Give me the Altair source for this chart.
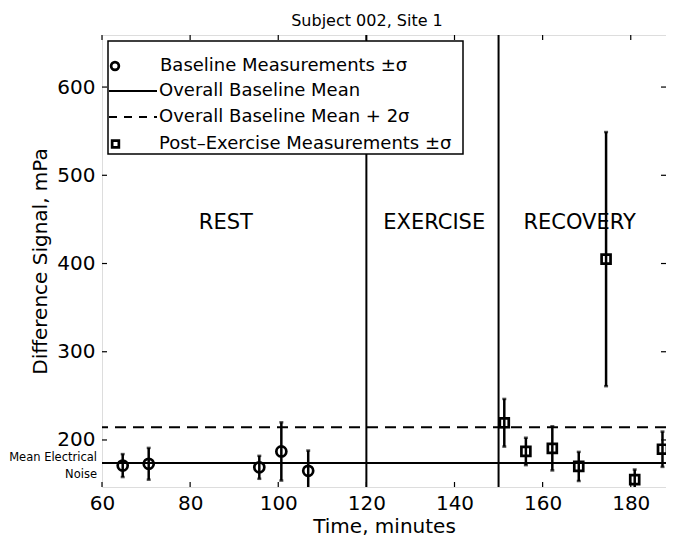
import altair as alt
import pandas as pd

# ---------------- data ----------------
base_t = [64.7, 70.6, 95.7, 100.7, 106.8]
base_v = [171, 173, 169, 187, 165]
base_e = [13, 18, 13, 33, 23]

post_t = [151.3, 156.2, 162.2, 168.2, 174.4, 180.9, 187.2]
post_v = [219.5, 187, 190.5, 170, 405, 155, 189.5]
post_e = [27, 15.5, 25, 16.5, 144, 11.5, 20]

baseline_mean = 174
baseline_mean_2s = 214.5
phase_bounds = [120, 150]

phase_names = ["REST", "EXERCISE", "RECOVERY"]
phase_x = [88.1, 135.4, 168.4]
phase_y = [446, 446, 446]

x_ticks = [60, 80, 100, 120, 140, 160, 180]
y_ticks = [200, 300, 400, 500, 600]

legend_labels = [
    "Baseline Measurements \u00b1\u03c3",
    "Overall Baseline Mean",
    "Overall Baseline Mean + 2\u03c3",
    "Post\u2013Exercise Measurements \u00b1\u03c3",
]

W, H = 564, 452
FONT = "DejaVu Sans"

xs = alt.Scale(domain=[60, 188], nice=False, zero=False)
ys = alt.Scale(domain=[146.7, 659], nice=False, zero=False)

base = pd.DataFrame({"t": base_t, "v": base_v, "e": base_e})
base["lo"] = base["v"] - base["e"]
base["hi"] = base["v"] + base["e"]
post = pd.DataFrame({"t": post_t, "v": post_v, "e": post_e})
post["lo"] = post["v"] - post["e"]
post["hi"] = post["v"] + post["e"]
bars = pd.concat([base, post], ignore_index=True)

X = lambda f: alt.X(f, type="quantitative", scale=xs)
Y = lambda f: alt.Y(f, type="quantitative", scale=ys)

# axes (no ticks, ticks are drawn inside with rules)
axes = alt.Chart(pd.DataFrame({"t": [60], "v": [200]})).mark_point(opacity=0).encode(
    x=alt.X("t:Q", scale=xs, title="Time, minutes",
            axis=alt.Axis(values=x_ticks, ticks=False, domain=False, grid=False,
                          labelFlush=False,
                          labelFontSize=20, labelPadding=6, labelColor="black",
                          titleFontSize=20, titleFontWeight="normal", titleColor="black",
                          titlePadding=3, labelFont=FONT, titleFont=FONT)),
    y=alt.Y("v:Q", scale=ys, title="Difference Signal, mPa",
            axis=alt.Axis(values=y_ticks, ticks=False, domain=False, grid=False,
                          labelFlush=False,
                          labelFontSize=20, labelPadding=7, labelColor="black",
                          titleFontSize=20, titleFontWeight="normal", titleColor="black",
                          titlePadding=6, labelFont=FONT, titleFont=FONT)),
)

xt = pd.DataFrame({"t": x_ticks})
yt = pd.DataFrame({"v": y_ticks})
tick_style = dict(color="black", strokeWidth=1.2)
xticks_bottom = alt.Chart(xt).mark_rule(**tick_style).encode(
    x=X("t"), y=alt.value(H - 5), y2=alt.value(H))
xticks_top = alt.Chart(xt).mark_rule(**tick_style).encode(
    x=X("t"), y=alt.value(0), y2=alt.value(5))
yticks_left = alt.Chart(yt).mark_rule(**tick_style).encode(
    y=Y("v"), x=alt.value(0), x2=alt.value(5))
yticks_right = alt.Chart(yt).mark_rule(**tick_style).encode(
    y=Y("v"), x=alt.value(W - 5), x2=alt.value(W))

vlines = alt.Chart(pd.DataFrame({"t": phase_bounds})).mark_rule(
    color="black", strokeWidth=2).encode(x=X("t"))
mean_line = alt.Chart(pd.DataFrame({"v": [baseline_mean]})).mark_rule(
    color="black", strokeWidth=2).encode(y=Y("v"))
mean2_line = alt.Chart(pd.DataFrame({"v": [baseline_mean_2s]})).mark_rule(
    color="black", strokeWidth=2, strokeDash=[11, 7]).encode(y=Y("v"))

err = alt.Chart(bars).mark_rule(color="black", strokeWidth=2.5, clip=True).encode(
    x=X("t"), y=Y("lo"), y2="hi")
cap_lo = alt.Chart(bars).mark_tick(color="black", size=4, thickness=2.5, orient="horizontal",
                                   clip=True).encode(x=X("t"), y=Y("lo"))
cap_hi = alt.Chart(bars).mark_tick(color="black", size=4, thickness=2.5, orient="horizontal",
                                   clip=True).encode(x=X("t"), y=Y("hi"))

circles = alt.Chart(base).mark_point(shape="circle", filled=False, size=100,
                                     strokeWidth=2.7, color="black", opacity=1).encode(
    x=X("t"), y=Y("v"))
squares = alt.Chart(post).mark_point(shape="square", filled=False, size=80,
                                     strokeWidth=2.7, color="black", opacity=1).encode(
    x=X("t"), y=Y("v"))

phases = alt.Chart(pd.DataFrame({"n": phase_names, "t": phase_x, "v": phase_y})).mark_text(
    font=FONT, fontSize=21, color="black", baseline="middle", align="center").encode(
    x=X("t"), y=Y("v"), text="n:N")

noise = alt.Chart(pd.DataFrame({"s": ["Mean Electrical", "Noise"], "dy": [423, 440]})).mark_text(
    font=FONT, fontSize=11.5, color="black", align="right", baseline="middle").encode(
    x=alt.value(-5), y=alt.Y("dy:Q", scale=None), text="s:N")

# legend
leg_box = alt.Chart(pd.DataFrame({"a": [0]})).mark_rect(
    fill="white", stroke="black", strokeWidth=1.5).encode(
    x=alt.value(6), x2=alt.value(361), y=alt.value(6), y2=alt.value(119))
leg_df = pd.DataFrame({"lab": legend_labels, "py": [31, 56, 82, 109], "px": [58, 57, 57, 57]})
leg_text = alt.Chart(leg_df).mark_text(font=FONT, fontSize=18, color="black",
                                       align="left", baseline="middle").encode(
    x=alt.X("px:Q", scale=None), y=alt.Y("py:Q", scale=None), text="lab:N")
leg_circle = alt.Chart(leg_df.iloc[[0]]).mark_point(shape="circle", filled=False, size=60,
                                                    strokeWidth=2.7, color="black", opacity=1).encode(
    x=alt.value(13), y=alt.Y("py:Q", scale=None))
leg_square = alt.Chart(leg_df.iloc[[3]]).mark_point(shape="square", filled=False, size=45,
                                                    strokeWidth=2.7, color="black", opacity=1).encode(
    x=alt.value(13.5), y=alt.Y("py:Q", scale=None))
leg_solid = alt.Chart(leg_df.iloc[[1]]).mark_rule(color="black", strokeWidth=2).encode(
    x=alt.value(7), x2=alt.value(55), y=alt.Y("py:Q", scale=None))
leg_dash = alt.Chart(leg_df.iloc[[2]]).mark_rule(color="black", strokeWidth=2, strokeDash=[8, 7]).encode(
    x=alt.value(7), x2=alt.value(55), y=alt.Y("py:Q", scale=None))

chart = alt.layer(
    axes, vlines, mean_line, mean2_line, err, cap_lo, cap_hi, circles, squares, phases,
    xticks_bottom, xticks_top, yticks_left, yticks_right,
    leg_box, leg_text, leg_circle, leg_square, leg_solid, leg_dash, noise,
).properties(
    width=W, height=H,
    title=alt.TitleParams("Subject 002, Site 1", font=FONT, fontSize=16, fontWeight="normal",
                          color="black", anchor="middle", dx=-17, offset=5),
    autosize=alt.AutoSizeParams(type="none"),
    padding={"left": 94, "top": 27, "right": 0, "bottom": 50},
).configure_view(stroke="black", strokeWidth=1.5).configure(background="white")

chart.save("out.html", embed_options={"renderer": "svg", "actions": False})
